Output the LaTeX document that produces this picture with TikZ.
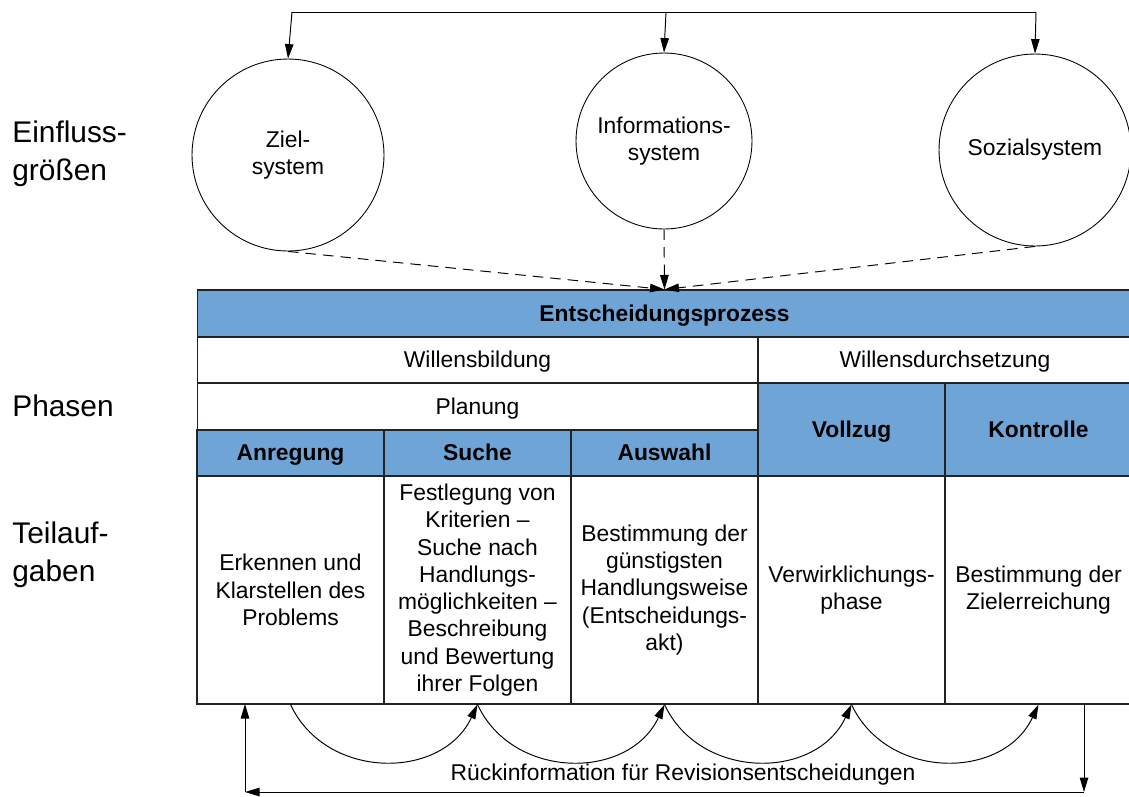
\documentclass[tikz,border=0pt]{standalone}
\usepackage{fontspec}
\setmainfont{Liberation Sans}
\usetikzlibrary{arrows.meta}
\definecolor{phaseBlue}{RGB}{111,165,214}
\definecolor{lineGray}{RGB}{35,35,35}

\begin{document}
\begin{tikzpicture}[
  x=0.02cm, y=-0.02cm,
  font=\fontsize{13}{15.5}\selectfont,
  sidelabel/.style={font=\fontsize{17}{21.5}\selectfont, align=left, anchor=west, inner sep=0pt},
  sysnode/.style={draw=black, circle, line width=0.5pt, align=center, inner sep=0pt},
  cell/.style={draw=lineGray, line width=0.6pt, align=center, inner sep=0pt, minimum width=3.74cm},
  rowcell/.style={cell, text height=11pt, text depth=2.1pt},
  phasecell/.style={rowcell, fill=phaseBlue, font=\fontsize{13}{15.5}\selectfont\bfseries},
  arr/.style={-{Triangle[length=2.9mm,width=1.7mm]}, line width=0.55pt},
  dasharr/.style={arr, dash pattern=on 6pt off 4pt}
]
\useasboundingbox (0,0) rectangle (1129,796);

% left labels
\node[sidelabel] (lbEin) at (12,154) {Einfluss-\\größen};
\node[sidelabel] (lbPha) at (12,406) {Phasen};
\node[sidelabel] (lbTei) at (12,555) {Teilauf-\\gaben};

% systems
\node[sysnode, minimum size=3.84cm] (zs) at (288,155) {Ziel-\\system};
\node[sysnode, minimum size=3.52cm] (is) at (664,141) {Informations-\\system};
\node[sysnode, minimum size=3.84cm] (ss) at (1035,150) {Sozialsystem};

\coordinate (top1) at (292,12);
\coordinate (top2) at (666,12);
\coordinate (top3) at (1036,12);
\draw[line width=0.55pt] (top1) -- (top3);
\draw[arr] (top1) -- (zs.north);
\draw[arr] (top2) -- (is.north);
\draw[arr] (top3) -- (ss.north);

% table
\node[phasecell, minimum width=18.7cm, minimum height=0.94cm] (ep) at (664.5,313.5) {Entscheidungsprozess};
\node[rowcell, minimum width=11.22cm, minimum height=0.92cm] (wb) at (477.5,360) {Willensbildung};
\node[rowcell, minimum width=7.48cm, minimum height=0.92cm] (wd) at (945,360) {Willensdurchsetzung};
\node[rowcell, minimum width=11.22cm, minimum height=0.94cm] (pl) at (477.5,406.5) {Planung};
\node[phasecell, minimum height=0.92cm] (an) at (290.5,453) {Anregung};
\node[phasecell, minimum height=0.92cm] (su) at (477.5,453) {Suche};
\node[phasecell, minimum height=0.92cm] (au) at (664.5,453) {Auswahl};
\node[phasecell, minimum height=1.86cm] (vo) at (851.5,429.5) {Vollzug};
\node[phasecell, minimum height=1.86cm] (ko) at (1038.5,429.5) {Kontrolle};

\node[cell, minimum height=4.56cm] (t1) at (290.5,590) {Erkennen und\\Klarstellen des\\Problems};
\node[cell, minimum height=4.56cm] (t2) at (477.5,590) {Festlegung von\\Kriterien --\\Suche nach\\Handlungs-\\möglichkeiten --\\Beschreibung\\und Bewertung\\ihrer Folgen};
\node[cell, minimum height=4.56cm] (t3) at (664.5,590) {Bestimmung der\\günstigsten\\Handlungsweise\\(Entscheidungs-\\akt)};
\node[cell, minimum height=4.56cm] (t4) at (851.5,590) {Verwirklichungs-\\phase};
\node[cell, minimum height=4.56cm] (t5) at (1038.5,590) {Bestimmung der\\Zielerreichung};

\draw[dasharr] (zs.south) -- (ep.north);
\draw[dasharr] (is.south) -- (ep.north);
\draw[dasharr] (ss.south) -- (ep.north);

% sequence of subtasks
\foreach \a/\b in {t1/t2,t2/t3,t3/t4,t4/t5}
  \draw[arr] (\a.south) to[out=-65, in=-115, looseness=1.15] (\b.south);

% feedback loop
\coordinate (fb1) at (1084,704);
\coordinate (fb2) at (1084,792);
\coordinate (fb3) at (245,792);
\coordinate (fb4) at (245,704);
\draw[arr] (fb1) -- (fb2);
\draw[arr] (fb2) -- (fb3);
\draw[arr] (fb3) -- (fb4);
\node (rueck) at (683,775) {Rückinformation für Revisionsentscheidungen};
\end{tikzpicture}
\end{document}
